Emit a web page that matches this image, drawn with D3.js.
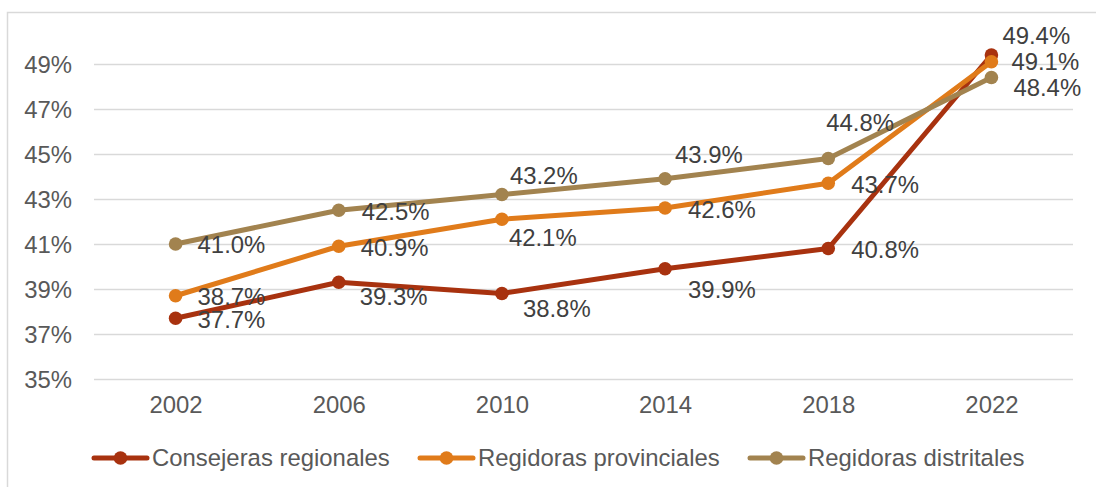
<!DOCTYPE html>
<meta charset="utf-8">
<script src="https://d3js.org/d3.v7.min.js"></script>
<style>
  body { margin: 0; background: #fff; }
  text { font-family: "Liberation Sans", Arial, sans-serif; }
</style>
<div id="my_dataviz"></div>
<script>

// data
var years = ["2002", "2006", "2010", "2014", "2018", "2022"];
var consejerasRegionales = [37.7, 39.3, 38.8, 39.9, 40.8, 49.4];
var regidorasProvinciales = [38.7, 40.9, 42.1, 42.6, 43.7, 49.1];
var regidorasDistritales = [41.0, 42.5, 43.2, 43.9, 44.8, 48.4];
var seriesNames = ["Consejeras regionales", "Regidoras provinciales", "Regidoras distritales"];
var yTicks = [35, 37, 39, 41, 43, 45, 47, 49];

var colors = ["#a8320f", "#e07b1a", "#a2834f"];
// where each data label sits, relative to its point (left edge dx, middle dy)
var labelNudge = [
  [[22, 1], [21, 14], [21, 15], [23, 21], [23, 1], [11, -19]],
  [[22, 1], [22, 1], [7, 18], [23, 2], [23, 1], [20, 0]],
  [[22, 1], [23, 1], [8, -19], [10, -24], [-2, -36], [22, 10]]
];

var width = 1096, height = 487;
var fontSize = "23.9px";

var svg = d3.select("#my_dataviz")
  .append("svg")
  .attr("width", width)
  .attr("height", height);

// chart frame
svg.append("rect")
  .attr("x", 7.5).attr("y", 12.5)
  .attr("width", width + 20).attr("height", height + 20)
  .attr("fill", "none")
  .attr("stroke", "#d9d9d9")
  .attr("stroke-width", 1.5);

var x = d3.scalePoint()
  .domain(years)
  .range([94, 1073])
  .padding(0.5);

var y = d3.scaleLinear()
  .domain([35, 50])
  .range([379, 41.5]);

// gridlines + y labels
var yAxis = svg.append("g")
  .attr("transform", "translate(94,0)")
  .call(d3.axisLeft(y).tickValues(yTicks).tickSize(-979).tickFormat(function(d) { return d + "%"; }).tickPadding(22));
yAxis.select(".domain").remove();
yAxis.selectAll("line").attr("stroke", "#d9d9d9").attr("stroke-width", 1.5);
yAxis.selectAll("text")
  .attr("fill", "#595959")
  .style("font-size", fontSize)
  .attr("dy", "0.35em");

// x labels
var xAxis = svg.append("g")
  .attr("transform", "translate(0,379)")
  .call(d3.axisBottom(x).tickSize(0).tickPadding(17));
xAxis.select(".domain").remove();
xAxis.selectAll("text")
  .attr("fill", "#595959")
  .style("font-size", fontSize);

var allSeries = [consejerasRegionales, regidorasProvinciales, regidorasDistritales];

var line = d3.line()
  .x(function(d, i) { return x(years[i]); })
  .y(function(d) { return y(d); });

allSeries.forEach(function(values, s) {
  var g = svg.append("g");
  g.append("path")
    .datum(values)
    .attr("d", line)
    .attr("fill", "none")
    .attr("stroke", colors[s])
    .attr("stroke-width", 5)
    .attr("stroke-linejoin", "round")
    .attr("stroke-linecap", "round");
  g.selectAll("circle")
    .data(values)
    .enter()
    .append("circle")
    .attr("cx", function(d, i) { return x(years[i]); })
    .attr("cy", function(d) { return y(d); })
    .attr("r", 6.8)
    .attr("fill", colors[s]);
});

// data labels on top
allSeries.forEach(function(values, s) {
  svg.append("g").selectAll("text")
    .data(values)
    .enter()
    .append("text")
    .attr("x", function(d, i) { return x(years[i]) + labelNudge[s][i][0]; })
    .attr("y", function(d, i) { return y(d) + labelNudge[s][i][1]; })
    .attr("dy", "0.35em")
    .attr("fill", "#404040")
    .style("font-size", fontSize)
    .text(function(d) { return d.toFixed(1) + "%"; });
});

// legend
var legendX = [92, 418, 748];
var legend = svg.append("g").attr("transform", "translate(0,458)");
seriesNames.forEach(function(name, s) {
  var lg = legend.append("g").attr("transform", "translate(" + legendX[s] + ",0)");
  lg.append("line")
    .attr("x1", 2).attr("x2", 55)
    .attr("stroke", colors[s])
    .attr("stroke-width", 5)
    .attr("stroke-linecap", "round");
  lg.append("circle")
    .attr("cx", 28.5).attr("r", 6.8)
    .attr("fill", colors[s]);
  lg.append("text")
    .attr("x", 60)
    .attr("dy", "0.35em")
    .attr("fill", "#595959")
    .style("font-size", fontSize)
    .text(name);
});

</script>
